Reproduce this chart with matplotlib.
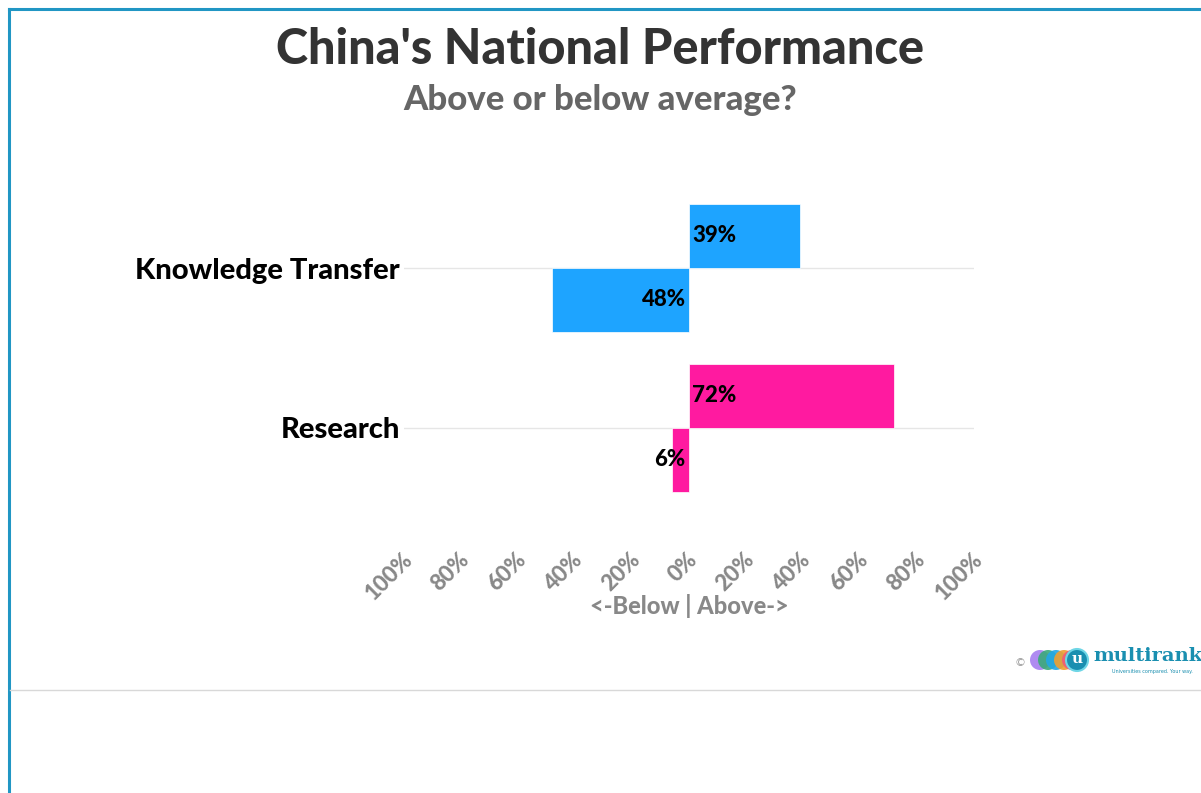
import matplotlib.pyplot as plt
from matplotlib.patches import Ellipse
from matplotlib.lines import Line2D
from matplotlib.transforms import ScaledTranslation

categories = ["Knowledge Transfer", "Research"]
above = [39, 72]
below = [48, 6]
colors = ["#1ea4ff", "#ff1aa0"]
tick_values = [-100, -80, -60, -40, -20, 0, 20, 40, 60, 80, 100]
tick_labels = [f"{abs(v)}%" for v in tick_values]

FONT = "Lato"
WT = 900

fig = plt.figure(figsize=(12.01, 7.93), dpi=100)
W, H = 1201, 793

def fx(px):
    return px / W

def fy(py):
    return 1 - py / H

ax = fig.add_axes([fx(404), fy(508), fx(974) - fx(404), fy(188) - fy(508)])

bar_h = 0.4
for i, (a, b, c) in enumerate(zip(above, below, colors)):
    ax.barh(i - bar_h / 2, a, height=bar_h, color=c, edgecolor="white", linewidth=0.5, zorder=3)
    ax.barh(i + bar_h / 2, -b, height=bar_h, color=c, edgecolor="white", linewidth=0.5, zorder=3)
    ax.text(1.2, i - bar_h / 2, f"{a}%", ha="left", va="center", fontsize=16,
            fontweight=WT, family=FONT, color="black", zorder=4)
    ax.text(-1.2, i + bar_h / 2, f"{b}%", ha="right", va="center", fontsize=16,
            fontweight=WT, family=FONT, color="black", zorder=4)

ax.set_ylim(1.5, -0.5)
ax.set_xlim(-100, 100)
ax.set_yticks(range(len(categories)))
ax.set_yticklabels(categories, fontsize=21, fontweight=WT, family=FONT, color="black")
ax.set_xticks(tick_values)
ax.set_xticklabels([])
# rotated tick labels placed below the axis
shift = ScaledTranslation(5 / 100, -48 / 100, fig.dpi_scale_trans)
for v, lab in zip(tick_values, tick_labels):
    ax.text(v, 0, lab, transform=ax.get_xaxis_transform() + shift, rotation=45,
            rotation_mode="anchor", ha="right", va="center", fontsize=16,
            fontweight=WT, family=FONT, color="#888888")
ax.tick_params(axis="both", length=0)
ax.tick_params(axis="y", pad=3)
ax.grid(axis="y", color="#e6e6e6", linewidth=1, zorder=0)
for s in ax.spines.values():
    s.set_visible(False)
fig.text(fx(689), fy(606), "<-Below | Above->", ha="center", va="center", fontsize=17,
         fontweight=WT, family=FONT, color="#888888")

fig.text(0.5, fy(50), "China's National Performance", ha="center", va="center",
         fontsize=35, fontweight=WT, family=FONT, color="#333333")
fig.text(0.5, fy(100), "Above or below average?", ha="center", va="center",
         fontsize=25, fontweight=WT, family=FONT, color="#666666")

# frame lines
teal = "#2196c4"
fig.add_artist(Line2D([fx(8.5), fx(8.5)], [0, fy(9)], color=teal, linewidth=2.2))
fig.add_artist(Line2D([fx(8.5), 1], [fy(9), fy(9)], color=teal, linewidth=2.2))
fig.add_artist(Line2D([fx(10), 1], [fy(690), fy(690)], color="#d8d8d8", linewidth=1))

# logo
fig.text(fx(1020), fy(663), "©", ha="center", va="center", fontsize=8, color="#999999")
logo_colors = ["#a77ff0", "#3aaa7a", "#22a7e6", "#f0a030", "#f05a78"]
for k, c in enumerate(logo_colors):
    cx = 1040 + k * 8
    fig.add_artist(Ellipse((fx(cx), fy(660)), 20 / W, 20 / H, transform=fig.transFigure,
                           facecolor=c, edgecolor="none", alpha=0.9))
fig.add_artist(Ellipse((fx(1077), fy(660)), 22 / W, 22 / H, transform=fig.transFigure,
                       facecolor="#1a8fb0", edgecolor="#6fd6e6", linewidth=1.5))
fig.text(fx(1077), fy(659), "u", ha="center", va="center", fontsize=11,
         fontweight="bold", color="white", family="DejaVu Serif")
fig.text(fx(1093), fy(656), "multirank", ha="left", va="center", fontsize=14,
         fontweight="bold", color="#1a8fb0", family="DejaVu Serif")
fig.text(fx(1112), fy(672), "Universities compared. Your way.", ha="left", va="center",
         fontsize=3.5, color="#1a8fb0")

fig.savefig("out.png", dpi=100)
